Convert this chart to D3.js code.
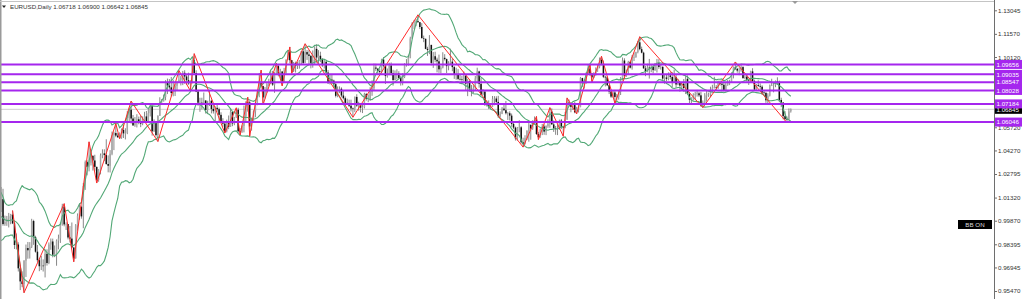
<!DOCTYPE html>
<html>
<head>
<meta charset="utf-8">
<script src="https://cdn.jsdelivr.net/npm/d3@7/dist/d3.min.js"></script>
<style>
  body { margin: 0; background: #fff; }
  svg { display: block; }
  text { font-family: "Liberation Sans", Arial, sans-serif; }
</style>
</head>
<body>
<script>
/*
 * EURUSD daily with Bollinger bands, zigzag and levels
 */

// daily bars, price x 10000 ; the first 20 bars only feed the bands
var lead = 20;

var closes = [
  10162,10170,10178,10087,10038, 9943,9967,9967,9972,9964, 10003,10016,10054,9945,9956, 9929,9902,10012,10000,10042,
  // 2022-09 .. 2022-12
  10122,9966,9980,9999,10015, 10025,9970,9835,9838,9689, 9607,9591,9737,9816,9802, 9825,9985,9884,9793,9740,
  9702,9706,9705,9780,9722, 9838,9857,9774,9779,9862, 9876,9964,10076,9964,9966, 9882,9875,9819,9751,9958,
  10018,10074,10014,10205,10354, 10325,10350,10393,10364,10324, 10243,10302,10396,10409,10398, 10342,10331,10406,10523,10536,
  10520,10510,10508,10555,10534, 10537,10630,10682,10627,10584, 10606,10622,10608,10595,10618, 10640,10611,10660,10705,
  // 2023-01 .. 2023-04
  10547,10606,10523,10644, 10733,10734,10761,10852,10833, 10822,10787,10794,10832,10856, 10870,10884,10913,10890,10867,
  10847,10862,10991,10912,10796, 10726,10726,10713,10740,10680, 10722,10738,10687,10673,10694, 10685,10650,10606,10595,10546,
  10605,10575,10669,10596,10635, 10682,10547,10545,10581,10642, 10730,10728,10577,10610,10671, 10720,10769,10856,10830,10759,
  10800,10842,10845,10906,10839, 10902,10955,10908,10921, 10860,10913,10993,11046,10992, 10925,10973,10956,10970,10990,
  11048,10975,11043,11028,11019,
  // 2023-05 .. 2023-08
  10975,10995,11063,11009,11020, 10999,10960,10982,10915,10848, 10871,10864,10842,10769,10805, 10813,10771,10754,10725,10722,
  10707,10690,10689,10762,10708, 10712,10695,10699,10780,10750, 10752,10793,10817,10946,10939, 10924,10918,10996,10956,10893,
  10904,10959,10911,10868,10910, 10910,10881,10854,10886,10968, 10970,11008,11128,11225,11228, 11237,11230,11200,11130,11126,
  11063,11056,11088,10975,11017, 10995,10985,10935,10946,11007, 10999,10955,10975,10983,10949, 10905,10905,10875,10872,10871,
  10894,10845,10862,10806,10795, 10818,10878,10922,10844,10776,
  // 2023-09 .. 2023-12
  10795,10721,10722,10698,10700, 10750,10752,10731,10642,10657, 10689,10679,10660,10660,10645, 10593,10570,10503,10568,10572,
  10478,10468,10504,10549,10588, 10564,10605,10620,10530,10510, 10560,10577,10545,10580,10594, 10670,10590,10565,10561,10565,
  10614,10575,10570,10620,10727, 10721,10700,10711,10666,10685, 10700,10880,10848,10848,10912, 10940,10908,10885,10905,10940,
  10952,10994,10970,10888,10885, 10835,10796,10764,10790,10762, 10763,10795,10878,10990,10895, 10920,10981,10945,11012,11012,
  11043,11104,11061,11039,
  // 2024-01 .. 2024-04
  10941,10922,10946,10940, 10950,10930,10972,10975,10950, 10950,10877,10884,10875,10897, 10887,10855,10885,10840,10855,
  10833,10845,10818,10875,10780, 10744,10754,10775,10780,10785, 10772,10708,10727,10772,10777, 10777,10808,10820,10823,10820,
  10851,10845,10838,10804,10838, 10854,10855,10900,10948,10938, 10927,10927,10949,10880,10889, 10867,10865,10922,10860,10808,
  10837,10831,10826,10790,10788, 10741,10770,10836,10836,10838, 10861,10857,10743,10727,10642, 10624,10621,10672,10685
];

var highs = [
  10238,10200,10202,10202,10096, 10045,9998,9999,10028,10090, 10028,10080,10079,10056,10033, 9965,9975,10030,10030,10112,
  10198,10187,10019,10017,10036, 10030,10051,9977,9907,9852, 9710,9670,9740,9838,9854, 9853,9999,9993,9893,9835,
  9751,9767,9745,9807,9808, 9851,9876,9875,9832,9870, 9900,9976,10093,10094,9977, 9966,9954,9976,9824,9966,
  10033,10094,10081,10223,10364, 10364,10481,10429,10397,10400, 10326,10310,10408,10434,10434, 10497,10396,10429,10545,10544,
  10595,10535,10540,10565,10588, 10566,10673,10695,10736,10649, 10636,10654,10639,10643,10640, 10669,10674,10686,10713,
  10710,10622,10610,10647, 10760,10749,10777,10867,10877, 10874,10887,10870,10845,10860, 10927,10893,10925,10929,10900,
  10914,10866,10997,11033,10929, 10806,10757,10757,10790,10741, 10738,10804,10745,10713,10703, 10714,10695,10666,10629,10603,
  10620,10646,10691,10669,10637, 10694,10694,10567,10584,10708, 10735,10760,10738,10633,10678, 10731,10801,10912,10930,10832,
  10824,10849,10876,10926,10925, 10917,10973,10964,10938, 10925,10944,10998,11049,11075, 10990,10981,10983,10982,10993,
  11049,11060,11095,11055,11055,
  11025,11053,11079,11092,11055, 11045,11005,11000,10987,10930, 10904,10904,10870,10853,10828, 10828,10822,10804,10765,10751,
  10745,10745,10696,10765,10779, 10732,10718,10715,10788,10787, 10778,10823,10866,10971,10970, 10942,10936,11001,11012,10965,
  10940,10976,10978,10932,10928, 10935,10923,10895,10911,10973, 10999,11026,11139,11231,11244, 11249,11276,11231,11224,11146,
  11127,11076,11149,11087,11043, 11045,11008,11027,10958,11042, 11030,11002,10986,11064,11003, 10955,10945,10936,10906,10893,
  10921,10902,10876,10866,10837, 10835,10893,10945,10926,10882,
  10811,10802,10740,10740,10717, 10768,10767,10766,10769,10671, 10699,10718,10737,10668,10672, 10658,10611,10576,10574,10616,
  10579,10507,10522,10554,10602, 10579,10616,10640,10640,10542, 10564,10593,10590,10584,10622, 10695,10690,10615,10580,10590,
  10620,10624,10578,10668,10756, 10746,10730,10722,10730,10700, 10710,10887,10882,10870,10917, 10965,10965,10911,10917,10947,
  10964,11009,11017,10990,10895, 10890,10837,10807,10800,10806, 10781,10805,10887,11009,11004, 10934,10988,10988,11024,11040,
  11045,11113,11139,11077,
  11045,10956,10970,11000, 10966,10967,10975,11000,10998, 10966,10955,10902,10902,10916, 10917,10917,10933,10903,10875,
  10847,10856,10874,10895,10897, 10790,10760,10785,10795,10806, 10795,10794,10740,10786,10805, 10789,10826,10838,10888,10836,
  10864,10865,10849,10850,10850, 10868,10869,10916,10953,10981, 10944,10946,10963,10955,10907, 10906,10877,10926,10942,10870,
  10843,10866,10847,10835,10803, 10790,10785,10840,10876,10850, 10865,10885,10864,10757,10730, 10673,10640,10690,10690
];

var lows = [
  10155,10123,10150,10073,10034, 9926,9901,9910,9950,9947, 9899,9990,9975,9910,9935, 9877,9865,9864,9929,9995,
  10055,9956,9955,9955,9945, 9965,9966,9810,9807,9669, 9553,9571,9536,9635,9749, 9750,9816,9836,9787,9728,
  9671,9678,9669,9632,9706, 9715,9805,9758,9759,9705, 9808,9848,9956,9952,9929, 9870,9851,9814,9730,9750,
  9925,9993,10000,9940,10180, 10271,10296,10333,10301,10300, 10223,10231,10277,10378,10360, 10338,10290,10289,10397,10429,
  10510,10505,10500,10500,10505, 10496,10529,10608,10595,10580, 10575,10571,10591,10573,10585, 10612,10609,10608,10640,
  10520,10543,10513,10483, 10643,10713,10735,10741,10780, 10807,10766,10766,10768,10802, 10854,10834,10836,10845,10837,
  10838,10800,10847,10905,10792, 10707,10669,10684,10712,10658, 10655,10705,10659,10658,10612, 10669,10609,10603,10575,10536,
  10540,10560,10576,10579,10585, 10631,10538,10524,10537,10540, 10607,10670,10516,10551,10611, 10635,10710,10760,10822,10713,
  10752,10788,10829,10842,10831, 10788,10899,10891,10878, 10831,10855,10903,10993,10972, 10910,10918,10915,10937,10939,
  10967,10965,10976,10994,10960,
  10941,10945,10965,10977,10966, 10980,10950,10940,10907,10845, 10840,10845,10822,10759,10760, 10786,10760,10746,10708,10712,
  10699,10671,10635,10667,10700, 10676,10666,10661,10690,10739, 10729,10737,10769,10804,10925, 10900,10897,10909,10946,10843,
  10883,10898,10897,10833,10866, 10872,10875,10833,10835,10880, 10952,10958,11004,11127,11187, 11205,11227,11187,11129,11105,
  11061,11019,11030,10960,10944, 10979,10916,10913,10911,10941, 10990,10912,10929,10965,10923, 10875,10870,10867,10865,10856,
  10860,10802,10767,10795,10766, 10785,10805,10846,10820,10770,
  10771,10706,10702,10686,10687, 10699,10710,10719,10631,10632, 10654,10675,10652,10618,10615, 10575,10561,10489,10488,10541,
  10470,10448,10464,10493,10482, 10494,10556,10592,10524,10495, 10507,10523,10525,10523,10569, 10569,10589,10543,10525,10523,
  10557,10561,10516,10566,10619, 10703,10666,10680,10660,10656, 10665,10697,10825,10814,10846, 10908,10894,10853,10880,10895,
  10919,10941,10960,10880,10828, 10830,10780,10756,10757,10723, 10738,10745,10774,10865,10886, 10888,10903,10940,10933,10987,
  11007,11035,11054,11035,
  10939,10892,10917,10877, 10917,10910,10925,10915,10938, 10933,10860,10844,10860,10866, 10872,10822,10850,10820,10836,
  10795,10803,10795,10780,10775, 10723,10722,10739,10740,10764, 10761,10701,10695,10716,10733, 10762,10761,10792,10815,10803,
  10812,10833,10797,10796,10795, 10832,10836,10850,10878,10931, 10914,10898,10920,10876,10873, 10859,10837,10852,10857,10802,
  10802,10825,10807,10775,10777, 10725,10724,10765,10830,10791, 10823,10838,10729,10698,10622, 10615,10601,10615,10664
];

// zigzag turning points: visible bar number and price
var zigzagBars = [6, 12, 33, 38, 46, 50, 60, 62, 68, 82, 93, 99, 101, 117, 123, 125, 129, 130, 136, 137,
  144, 147, 151, 152, 159, 184, 218, 273, 280, 281, 287, 294, 296, 301, 308, 309, 314, 321, 334, 367, 384, 411];
var zigzagPrices = [1.0051, 0.9536, 1.0094, 0.9730, 1.0481, 1.0223, 1.0595, 1.0500, 1.0736, 1.0483,
  1.0927, 1.0800, 1.1033, 1.0536, 1.0694, 1.0524, 1.0760, 1.0516, 1.0930, 1.0713,
  1.0973, 1.0831, 1.1075, 1.0910, 1.1095, 1.0635, 1.1276, 1.0448, 1.0640, 1.0495,
  1.0695, 1.0516, 1.0756, 1.0656, 1.0965, 1.0853, 1.1017, 1.0723, 1.1139, 1.0695, 1.0981, 1.0601];

// horizontal levels
var levels = [1.09656, 1.09035, 1.08547, 1.08028, 1.07184, 1.06046];
var bid = 1.06845;

// price scale labels (the two under the level tags are not shown)
var tickLabels = ['1.13045', '1.11570', '1.10120', '1.05720', '1.04270',
  '1.02795', '1.01320', '0.99870', '0.98395', '0.96945', '0.95470'];

var header = ['EURUSD,Daily', '1.06718', '1.06900', '1.06642', '1.06845'];

var W = 1024, H = 299, axisX = 994;
var purple = '#a526ee';
var fs = 6.2;

var svg = d3.select('body').append('svg')
  .attr('width', W)
  .attr('height', H);

svg.append('defs').append('clipPath').attr('id', 'plot')
  .append('rect').attr('x', 1).attr('y', 2).attr('width', axisX - 1).attr('height', H - 2);

var x = d3.scaleLinear().domain([lead, closes.length - 1]).range([1.1, 790.8]);
var y = d3.scaleLinear().domain([0.95470, 1.13045]).range([291, 10.3]);
var pr = function (v) { return v / 10000; };

var bars = closes.map(function (c, i) {
  var o = i > 0 ? closes[i - 1] : c;
  return {
    i: i, o: pr(o), c: pr(c),
    h: pr(Math.max(highs[i], o, c)),
    l: pr(Math.min(lows[i], o, c))
  };
});

// bollinger 20, 2
var band = [];
for (var i = 19; i < closes.length; i++) {
  var win = closes.slice(i - 19, i + 1).map(pr);
  var m = d3.mean(win);
  var sd = Math.sqrt(d3.mean(win, function (v) { return (v - m) * (v - m); }));
  band.push({ i: i, mid: m, up: m + 2 * sd, lo: m - 2 * sd });
}

var plot = svg.append('g').attr('clip-path', 'url(#plot)');

// bid line
plot.append('line')
  .attr('x1', 0).attr('x2', axisX)
  .attr('y1', y(bid)).attr('y2', y(bid))
  .attr('stroke', '#cfcfcf').attr('stroke-width', 1);

// candles
var candle = plot.append('g').selectAll('g').data(bars).enter().append('g');
candle.append('line')
  .attr('x1', function (d) { return x(d.i); })
  .attr('x2', function (d) { return x(d.i); })
  .attr('y1', function (d) { return y(d.h); })
  .attr('y2', function (d) { return y(d.l); })
  .attr('stroke', '#7a7a7a').attr('stroke-width', 0.9);
candle.append('rect')
  .attr('x', function (d) { return x(d.i) - 0.75; })
  .attr('width', 1.5)
  .attr('y', function (d) { return y(Math.max(d.o, d.c)); })
  .attr('height', function (d) { return Math.max(0.6, Math.abs(y(d.o) - y(d.c))); })
  .attr('fill', function (d) { return d.c < d.o ? '#111' : '#a8a8a8'; });

// bands
['up', 'mid', 'lo'].forEach(function (k) {
  plot.append('path')
    .datum(band)
    .attr('fill', 'none')
    .attr('stroke', '#52a876')
    .attr('stroke-width', 1.1)
    .attr('d', d3.line()
      .x(function (d) { return x(d.i); })
      .y(function (d) { return y(d[k]); }));
});

// zigzag
plot.append('path')
  .datum(zigzagBars.map(function (b, k) { return [x(b + lead), y(zigzagPrices[k])]; }))
  .attr('fill', 'none')
  .attr('stroke', '#ff2a2a')
  .attr('stroke-width', 1)
  .attr('d', d3.line());

// levels
plot.selectAll('.lvl').data(levels).enter().append('line')
  .attr('class', 'lvl')
  .attr('x1', 0).attr('x2', axisX)
  .attr('y1', function (d) { return y(d); })
  .attr('y2', function (d) { return y(d); })
  .attr('stroke', purple).attr('stroke-width', 2);

// frame
svg.append('line').attr('x1', 0.5).attr('x2', 0.5).attr('y1', 0).attr('y2', H)
  .attr('stroke', '#9a9a9a').attr('stroke-width', 2);
svg.append('line').attr('x1', 0).attr('x2', axisX).attr('y1', 1.5).attr('y2', 1.5)
  .attr('stroke', '#c4c4c4');
svg.append('path').attr('d', 'M792,1L798,1L795,4Z').attr('fill', '#9a9a9a');

// price axis
var axis = svg.append('g')
  .attr('transform', 'translate(' + axisX + ',0)')
  .call(d3.axisRight(y)
    .tickValues(tickLabels.map(Number))
    .tickFormat(function (d, k) { return tickLabels[k]; })
    .tickSize(3)
    .tickPadding(1));
axis.select('.domain').attr('stroke', '#6e6e6e').attr('d', 'M0.5,0V' + H);
axis.selectAll('.tick line').attr('stroke', '#6e6e6e');
axis.selectAll('.tick text')
  .attr('font-size', fs)
  .attr('font-family', '"Liberation Sans", Arial, sans-serif')
  .attr('fill', '#333');

// bid label
var bidTag = svg.append('g').attr('transform', 'translate(995,' + y(bid) + ')');
bidTag.append('rect').attr('x', 0).attr('y', -4.5).attr('width', 27).attr('height', 9).attr('fill', '#000');
bidTag.append('text').attr('x', 1.5).attr('y', 2.3).attr('font-size', fs).attr('fill', '#fff')
  .text(bid.toFixed(5));

// level labels
var tag = svg.selectAll('.tag').data(levels).enter().append('g')
  .attr('class', 'tag')
  .attr('transform', function (d) { return 'translate(995,' + y(d) + ')'; });
tag.append('rect').attr('x', 0).attr('y', -4.5).attr('width', 27).attr('height', 9).attr('fill', purple);
tag.append('text').attr('x', 1.5).attr('y', 2.3).attr('font-size', fs).attr('fill', '#fff')
  .text(function (d) { return d.toFixed(5); });

// header
svg.append('path').attr('d', 'M2,5.5L6,5.5L4,8Z').attr('fill', '#222');
svg.append('text').attr('x', 10).attr('y', 9).attr('font-size', fs).attr('fill', '#333')
  .text(header[0] + '  ' + header.slice(1).join(' '));

// indicator badge
var badge = svg.append('g').attr('transform', 'translate(958,220)');
badge.append('rect').attr('width', 34).attr('height', 9).attr('fill', '#000');
badge.append('text').attr('x', 17).attr('y', 6.8).attr('text-anchor', 'middle')
  .attr('font-size', fs).attr('fill', '#d8d8d8').text('BB ON');
</script>
</body>
</html>
